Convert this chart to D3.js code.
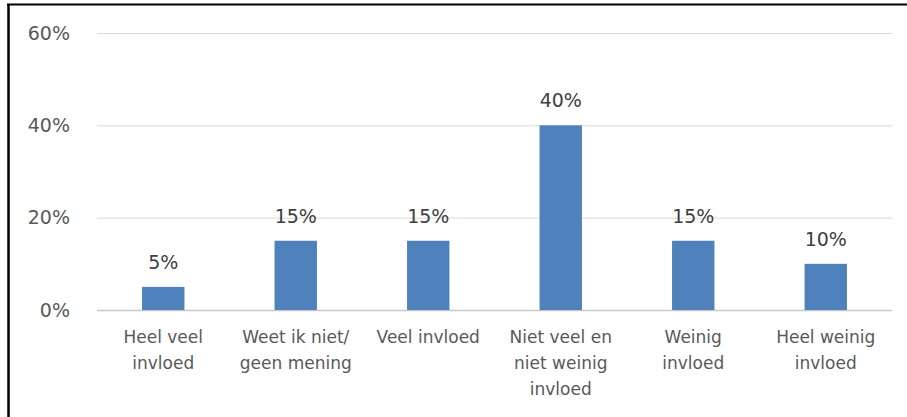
<!DOCTYPE html>
<html lang="nl">
<head>
  <meta charset="UTF-8">
  <title>Invloed</title>
  <script src="https://d3js.org/d3.v7.min.js"></script>
  <style>
    body { margin: 0; background: #fff; }
    svg { display: block; }
  </style>
</head>
<body>
  <script>
    // 1. Data
    const categories = [
      ["Heel veel", "invloed"],
      ["Weet ik niet/", "geen mening"],
      ["Veel invloed"],
      ["Niet veel en", "niet weinig", "invloed"],
      ["Weinig", "invloed"],
      ["Heel weinig", "invloed"]
    ];
    const values = [5, 15, 15, 40, 15, 10];
    const yTicks = [0, 20, 40, 60];

    // 2. SVG canvas
    const width = 907, height = 417;
    const font = "'DejaVu Sans', sans-serif";
    const svg = d3.select("body")
                  .append("svg")
                  .attr("width", width)
                  .attr("height", height);

    // frame (cropped chart border)
    svg.append("line")
       .attr("x1", 7).attr("x2", width)
       .attr("y1", 4.5).attr("y2", 4.5)
       .attr("stroke", "#000").attr("stroke-width", 2);
    svg.append("line")
       .attr("x1", 8.5).attr("x2", 8.5)
       .attr("y1", 4).attr("y2", height)
       .attr("stroke", "#000").attr("stroke-width", 2.5);

    // 3. Scales
    const x = d3.scaleBand()
                .domain(d3.range(categories.length))
                .range([97, 892])
                .paddingInner(0.68)
                .paddingOuter(0.34);

    const y = d3.scaleLinear()
                .domain([0, 60])
                .range([310, 33]);

    // 4. Gridlines + y labels
    const yAxis = svg.append("g")
       .attr("transform", "translate(97,0)")
       .call(d3.axisLeft(y)
               .tickValues(yTicks)
               .tickSize(-795)
               .tickPadding(27)
               .tickFormat(d => d + "%"));
    yAxis.select(".domain").remove();
    yAxis.selectAll(".tick line")
         .attr("stroke", d => d === 0 ? "#c8c8c8" : "#d9d9d9")
         .attr("stroke-width", d => d === 0 ? 1.5 : 1);
    yAxis.selectAll(".tick text")
         .attr("fill", "#595959")
         .style("font-family", font)
         .style("font-size", "19px");

    // 5. Bars
    svg.append("g")
       .selectAll("rect")
       .data(values)
       .join("rect")
       .attr("x", (d, i) => x(i))
       .attr("width", x.bandwidth())
       .attr("y", d => y(d))
       .attr("height", d => y(0) - y(d))
       .attr("fill", "#4f81bd");

    // value labels
    svg.append("g")
       .selectAll("text")
       .data(values)
       .join("text")
       .attr("x", (d, i) => x(i) + x.bandwidth() / 2)
       .attr("y", d => y(d) - 18)
       .attr("text-anchor", "middle")
       .attr("fill", "#404040")
       .style("font-family", font)
       .style("font-size", "19px")
       .text(d => d + "%");

    // 6. Category labels
    const cat = svg.append("g")
       .selectAll("text")
       .data(categories)
       .join("text")
       .attr("x", (d, i) => x(i) + x.bandwidth() / 2)
       .attr("y", 343)
       .attr("text-anchor", "middle")
       .attr("fill", "#595959")
       .style("font-family", font)
       .style("font-size", "17px");
    cat.selectAll("tspan")
       .data(d => d)
       .join("tspan")
       .attr("x", function () { return this.parentNode.getAttribute("x"); })
       .attr("dy", (d, i) => i === 0 ? 0 : 26)
       .text(d => d);
  </script>
</body>
</html>
